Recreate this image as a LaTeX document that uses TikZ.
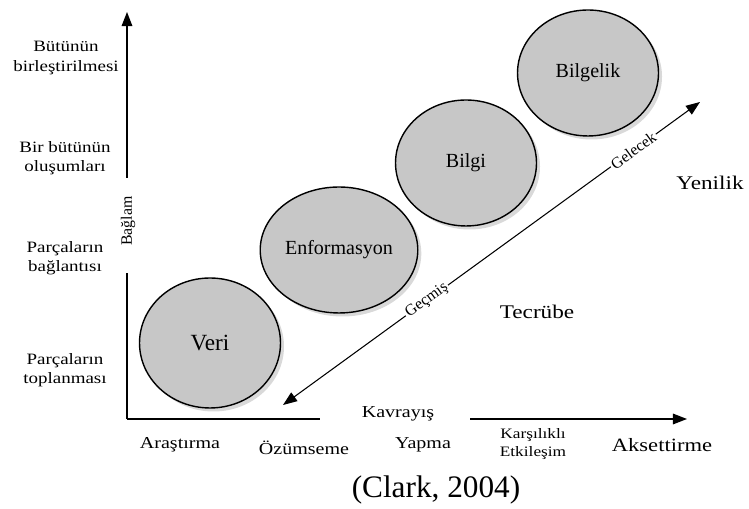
\documentclass[tikz,border=0pt]{standalone}
\usepackage{fontspec}
\setmainfont{Liberation Serif}
\newfontfamily\lblfont[FakeStretch=1.2]{Liberation Serif}
\usepackage{tikz}
\usetikzlibrary{arrows.meta}
\usetikzlibrary{shapes,shadows}
\usetikzlibrary{calc}
\tikzstyle{stage}=[draw,ellipse,fill=black!22,line width=0.8pt,minimum width=2.82cm,minimum height=2.52cm,inner sep=1pt,font=\fontsize{11.4}{13}\selectfont,drop shadow={shadow xshift=2pt,shadow yshift=-2pt,opacity=.3}]
\tikzstyle{side}=[align=center,font=\lblfont\fontsize{9}{11}\selectfont]
\tikzstyle{bottom}=[align=center,font=\lblfont\fontsize{9.5}{11}\selectfont]
\tikzstyle{timelabel}=[sloped,fill=white,inner sep=1pt,font=\fontsize{9}{10}\selectfont]
\tikzstyle{axis}=[line width=0.8pt]
\tikzstyle{axisarrow}=[-{Triangle[length=8pt,width=6pt]}]

\begin{document}
\begin{tikzpicture}[x=0.02cm,y=0.02cm]
\useasboundingbox (0,0) rectangle (749,509);

% axes
\coordinate (O) at (127,90);
\coordinate (Y) at (127,497);
\coordinate (yb) at (127,236);
\coordinate (yt) at (127,331);
\coordinate (xb) at (320,90);
\coordinate (xt) at (470,90);
\coordinate (X) at (687,90);
\node [rotate=90,font=\fontsize{9}{11}\selectfont] (baglam) at (128,288) {Bağlam};
\node [bottom] (kavrayis) at (398,95) {Kavrayış};
\draw[axis] (O) -- (yb);
\draw[axis,axisarrow] (yt) -- (Y);
\draw[axis] (O) -- (xb);
\draw[axis,axisarrow] (xt) -- (X);

% left side
\node [side] (s1) at (66,451) {Bütünün\\birleştirilmesi};
\node [side] (s2) at (65,351) {Bir bütünün\\oluşumları};
\node [side] (s3) at (65,251) {Parçaların\\bağlantısı};
\node [side] (s4) at (65,139) {Parçaların\\toplanması};

% bottom
\node [bottom] (arastirma) at (180,64) {Araştırma};
\node [bottom] (ozumseme) at (304,61) {Özümseme};
\node [bottom] (yapma) at (423,64) {Yapma};
\node [align=center,font=\lblfont\fontsize{8.2}{10}\selectfont] (etkilesim) at (533,65) {Karşılıklı\\Etkileşim};
\node [bottom,font=\lblfont\fontsize{10.7}{12}\selectfont] (aksettirme) at (662,64) {Aksettirme};

% stages
\node [stage,minimum height=2.6cm,font=\fontsize{13.2}{15}\selectfont] (veri) at (210,166) {Veri};
\node [stage] (enf) at (339,259) {Enformasyon};
\node [stage] (bilgi) at (466,346) {Bilgi};
\node [stage] (bilgelik) at (588,436) {Bilgelik};

% time
\coordinate (past) at (283,104);
\coordinate (future) at (700,407);
\draw[line width=0.6pt,{Triangle[length=8pt,width=6pt]}-{Triangle[length=8pt,width=6pt]}] (past) -- node[timelabel,pos=.345] (gecmis) {Geçmiş} node[timelabel,pos=.84] (gelecek) {Gelecek} (future);

\node [font=\lblfont\fontsize{11}{13}\selectfont] (yenilik) at (710,326) {Yenilik};
\node [font=\lblfont\fontsize{11}{13}\selectfont] (tecrube) at (537,197) {Tecrübe};

\node [font=\fontsize{17.8}{20}\selectfont] (kaynak) at (436,19) {(Clark, 2004)};
\end{tikzpicture}
\end{document}
